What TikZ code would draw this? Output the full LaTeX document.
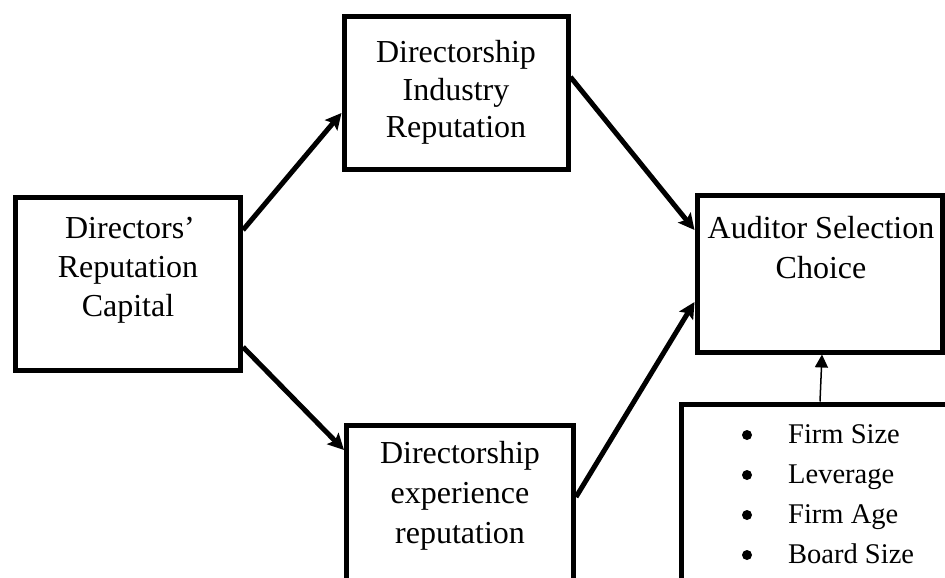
\documentclass[tikz,border=0pt]{standalone}
\usepackage{fontspec}
\setmainfont{Liberation Serif}
\usetikzlibrary{arrows.meta}
\begin{document}
\begin{tikzpicture}[x=1pt,y=-1pt,
  box/.style={draw,line width=5pt,rectangle,inner sep=0pt},
  conn/.style={line width=5pt,-{Stealth[length=16pt,width=16pt,inset=3pt]}},
  thinconn/.style={line width=1.5pt,-{Triangle[length=13pt,width=13pt]}},
  txt/.style={anchor=base,inner sep=0pt,font=\fontsize{32}{38}\selectfont},
  lst/.style={anchor=base west,inner sep=0pt,font=\fontsize{28.5}{34}\selectfont},
  bul/.style={circle,fill,inner sep=0pt,minimum size=10pt}]
\useasboundingbox (0,0) rectangle (945,578);
\clip (0,0) rectangle (945,578);
% boxes
\node[box,minimum width=224pt,minimum height=152.5pt] (dir) at (456,92.75) {};
\node[box,minimum width=225pt,minimum height=172.5pt] (drc) at (128,283.75) {};
\node[box,minimum width=227pt,minimum height=200pt] (der) at (460,525) {};
\node[box,minimum width=245pt,minimum height=157pt] (asc) at (819.5,273.5) {};
\node[box,minimum width=319pt,minimum height=216pt] (ctl) at (840.5,512) {};
% texts
\node[txt] (dir1) at (456,63) {Directorship};
\node[txt] (dir2) at (456,100) {Industry};
\node[txt] (dir3) at (456,137) {Reputation};
\node[txt] (drc1) at (130,238) {Directors’};
\node[txt] (drc2) at (128,277) {Reputation};
\node[txt] (drc3) at (128,316) {Capital};
\node[txt] (der1) at (460,463) {Directorship};
\node[txt] (der2) at (460,503) {experience};
\node[txt] (der3) at (460,543) {reputation};
\node[txt] (asc1) at (821,238) {Auditor Selection};
\node[txt] (asc2) at (821,278) {Choice};
\node[bul] (b1) at (747,435) {};
\node[bul] (b2) at (747,475) {};
\node[bul] (b3) at (747,515) {};
\node[bul] (b4) at (747,555) {};
\node[lst] (l1) at (788,443) {Firm Size};
\node[lst] (l2) at (788,483) {Leverage};
\node[lst] (l3) at (788,523) {Firm Age};
\node[lst] (l4) at (788,563) {Board Size};
% connectors
\draw[conn] ([yshift=53.75pt]drc.east) -- ([yshift=-20.25pt]dir.west);
\draw[conn] ([yshift=-63.25pt]drc.east) -- ([yshift=-27.5pt]der.north west);
\draw[conn] ([yshift=15.75pt]dir.east) -- ([yshift=43.5pt]asc.west);
\draw[conn] ([yshift=-74.5pt]der.north east) -- ([yshift=-28.5pt]asc.west);
\draw[thinconn] ([xshift=-20.5pt]ctl.north) -- ([xshift=2.5pt]asc.south);
\end{tikzpicture}
\end{document}
